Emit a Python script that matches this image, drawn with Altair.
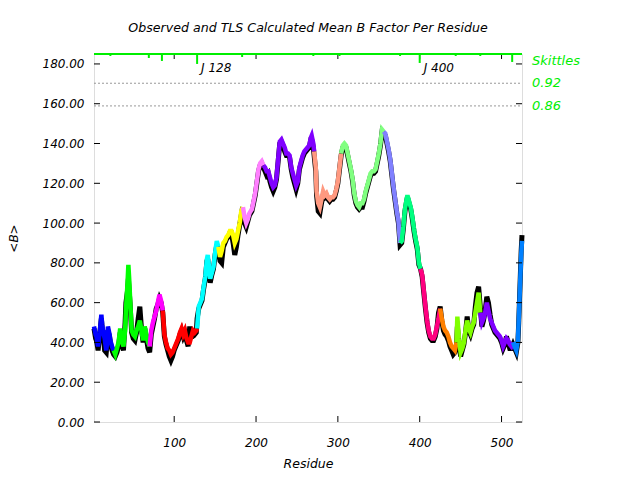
import altair as alt
import pandas as pd

# ---------------- data ----------------
residue = [2, 4, 5, 7, 9, 11, 12, 13, 15, 17, 18, 19, 21, 22, 24, 26, 28, 30, 32, 34, 36, 38, 40, 41, 43, 44, 45, 46, 48, 50,
           52, 54, 56, 58, 60, 62, 64, 66, 68, 70, 72, 74, 76, 78, 80, 82, 84, 86, 88, 90, 92, 94, 96, 98, 100, 102, 105, 107, 109, 111,
           113, 115, 117, 119, 121, 123, 125, 127, 128, 130, 132, 134, 136, 138, 140, 141, 143, 144, 146, 148, 150, 152, 154, 156, 158, 160, 162, 164, 166, 168,
           170, 172, 174, 176, 178, 180, 182, 184, 186, 188, 190, 192, 195, 197, 199, 201, 203, 205, 207, 209, 211, 213, 215, 217, 219, 221, 223, 225, 227, 229,
           231, 233, 235, 237, 239, 241, 243, 245, 247, 249, 251, 253, 255, 257, 259, 261, 263, 265, 267, 268, 270, 271, 273, 274, 276, 278, 280, 282, 284, 286,
           288, 290, 292, 294, 296, 298, 300, 302, 304, 306, 308, 310, 312, 314, 316, 318, 320, 322, 324, 326, 328, 330, 332, 334, 336, 338, 340, 342, 344, 346,
           348, 350, 352, 354, 356, 358, 360, 362, 364, 366, 368, 370, 372, 374, 376, 378, 380, 382, 384, 385, 387, 389, 391, 393, 395, 397, 399, 401, 403, 405,
           407, 409, 411, 413, 415, 417, 419, 421, 423, 425, 427, 429, 431, 433, 435, 437, 439, 441, 443, 445, 446, 448, 450, 452, 454, 456, 458, 460, 462, 464,
           466, 468, 470, 472, 474, 476, 478, 480, 482, 484, 486, 488, 490, 492, 494, 496, 498, 500, 502, 504, 506, 508, 510, 512, 514, 516, 518, 520, 521, 522,
           523, 524, 525]
calc_b = [48, 44, 43, 38, 45, 54, 49, 46, 42, 36, 40, 48, 44, 41, 38, 36, 34, 37, 40, 47, 41, 38, 46, 56, 70, 79, 72, 63, 46, 44,
          43, 46, 48, 51, 46, 41, 48, 44, 40, 38, 46, 50, 53, 56, 60, 64, 61, 56, 44, 40, 37, 36, 34, 35, 37, 39, 42, 45, 47, 44,
          46, 42, 40, 40, 43, 46, 45, 46, 47, 58, 60, 62, 68, 73, 82, 84, 76, 72, 75, 78, 85, 91, 88, 83, 86, 90, 91, 93, 94, 96,
          96, 94, 90, 92, 96, 100, 106, 108, 103, 100, 102, 105, 107, 111, 115, 121, 127, 130, 131, 129, 128, 126, 126, 123, 120, 118, 119, 123, 132, 141,
          142, 140, 138, 135, 135, 134, 128, 125, 122, 119, 121, 128, 131, 134, 136, 137, 138, 139, 143, 144, 140, 136, 128, 116, 110, 108, 112, 116, 114, 115,
          113, 112, 113, 113, 114, 117, 121, 128, 135, 139, 140, 139, 135, 131, 127, 122, 115, 111, 109, 108, 110, 110, 112, 116, 119, 122, 125, 126, 126, 127,
          131, 135, 140, 147, 146, 145, 141, 137, 132, 125, 118, 112, 106, 101, 90, 91, 98, 107, 112, 114, 111, 108, 103, 97, 92, 88, 80, 77, 74, 66,
          58, 51, 46, 43, 42, 42, 44, 48, 52, 57, 52, 48, 46, 45, 43, 40, 38, 37, 36, 40, 53, 42, 35, 37, 40, 46, 51, 47, 45, 48,
          50, 55, 60, 65, 55, 50, 52, 55, 60, 56, 52, 50, 48, 46, 45, 44, 43, 41, 38, 40, 42, 41, 39, 38, 40, 38, 36, 41, 51, 62,
          73, 84, 91]
obs_b = [47, 42, 41, 36, 44, 52, 47, 45, 36, 35, 39, 46, 43, 40, 36, 34, 33, 35, 38, 45, 40, 36, 50, 60, 66, 72, 66, 60, 45, 42,
         41, 45, 52, 58, 47, 40, 47, 42, 37, 35, 44, 48, 52, 57, 59, 62, 60, 55, 43, 39, 36, 33, 31, 33, 36, 38, 41, 44, 46, 43,
         45, 41, 38, 48, 42, 45, 44, 45, 52, 57, 59, 61, 67, 72, 81, 82, 74, 70, 74, 77, 84, 89, 86, 81, 80, 88, 90, 92, 93, 95,
         95, 90, 84, 88, 94, 99, 104, 102, 100, 98, 101, 104, 106, 110, 114, 120, 126, 129, 130, 128, 126, 124, 125, 121, 118, 116, 118, 122, 131, 140,
         141, 139, 136, 134, 134, 133, 127, 123, 120, 117, 120, 127, 130, 133, 135, 136, 137, 138, 142, 142, 138, 134, 126, 114, 106, 105, 110, 114, 113, 114,
         112, 111, 112, 112, 113, 116, 120, 127, 134, 138, 139, 138, 134, 130, 126, 121, 114, 110, 108, 107, 108, 108, 111, 115, 118, 121, 124, 125, 125, 126,
         130, 134, 139, 146, 145, 144, 140, 136, 131, 124, 117, 111, 105, 100, 89, 90, 97, 106, 111, 113, 110, 107, 102, 96, 91, 87, 79, 77, 73, 65,
         57, 50, 45, 42, 41, 41, 43, 47, 55, 58, 51, 46, 44, 43, 41, 38, 36, 34, 35, 39, 48, 40, 33, 36, 39, 45, 53, 46, 44, 47,
         49, 58, 65, 68, 58, 48, 51, 56, 63, 60, 54, 49, 47, 45, 44, 43, 42, 40, 37, 39, 43, 40, 37, 37, 39, 37, 35, 40, 50, 62,
         74, 86, 94]

seg_start = [2, 26, 70, 86, 128, 154, 184, 209, 271, 304, 356, 376, 401, 425, 445, 474, 514]
seg_color = ["#0000ff", "#00ff00", "#ff00ff", "#ff0000", "#00ffff", "#ffff00", "#ff80ff", "#8000ff", "#ff9980",
             "#80ff80", "#8080ff", "#00ff80", "#ff0080", "#ff8000", "#80ff00", "#8000ff", "#0080ff"]

skittle_res = [22, 69, 85, 128, 183, 270, 302, 376, 400, 444, 474, 513]
skittle_depth = [1, 2, 3.5, 5, 1.5, 1, 1, 1, 4.5, 1, 1, 4]
junction_res = [128, 400]
junction_text = ["J 128", "J 400"]

cutoff_b = [170.3, 158.9]
cutoff_text = ["0.92", "0.86"]
skittles_label_b = 181.5

y_ticks = [0, 20, 40, 60, 80, 100, 120, 140, 160, 180]
x_ticks = [100, 200, 300, 400, 500]

TITLE = "Observed and TLS Calculated Mean B Factor Per Residue"
W, H = 428, 368
FONT = "DejaVu Sans"
GREEN = "#00ee00"

# ---------------- tables ----------------
obs_df = pd.DataFrame({"residue": residue, "b": obs_b})
rows = []
bounds = seg_start + [max(residue) + 1]
for i in range(len(seg_start)):
    lo, hi = bounds[i], bounds[i + 1]
    for r, v in zip(residue, calc_b):
        if lo <= r <= hi:
            rows.append({"residue": r, "b": v, "seg": f"s{i:02d}"})
calc_df = pd.DataFrame(rows)
seg_ids = [f"s{i:02d}" for i in range(len(seg_start))]

xs = alt.Scale(domain=[2, 525], nice=False, zero=False)
ys = alt.Scale(domain=[0, 185], nice=False)

x_enc = alt.X("residue:Q", scale=xs, title="Residue",
              axis=alt.Axis(values=x_ticks, ticks=False, domain=False, grid=False,
                            labelPadding=15, titlePadding=9, labelFontStyle="italic",
                            titleFontStyle="italic", titleFontWeight="normal",
                            labelFont=FONT, titleFont=FONT, labelFontSize=12, titleFontSize=12.5,
                            labelColor="black", titleColor="black"))
y_enc = alt.Y("b:Q", scale=ys, title="<B>",
              axis=alt.Axis(values=y_ticks, format=".2f", ticks=False, domain=False, grid=False,
                            labelPadding=10, titlePadding=22, labelFontStyle="italic",
                            titleFontStyle="italic", titleFontWeight="normal",
                            labelFont=FONT, titleFont=FONT, labelFontSize=12, titleFontSize=12,
                            labelColor="black", titleColor="black"))

obs_line = alt.Chart(obs_df).mark_line(color="black", strokeWidth=5).encode(x=x_enc, y=y_enc)
calc_line = alt.Chart(calc_df).mark_line(strokeWidth=4.5).encode(
    x=alt.X("residue:Q", scale=xs),
    y=alt.Y("b:Q", scale=ys),
    color=alt.Color("seg:N", scale=alt.Scale(domain=seg_ids, range=seg_color), legend=None),
    detail="seg:N",
)

cut_df = pd.DataFrame({"b": cutoff_b, "label": cutoff_text})
cut_lines = alt.Chart(cut_df).mark_rule(color="#999999", strokeDash=[2, 2], strokeWidth=1).encode(
    y=alt.Y("b:Q", scale=ys), x=alt.value(0), x2=alt.value(W))
right_lab_df = pd.DataFrame({"b": cutoff_b + [skittles_label_b], "label": cutoff_text + ["Skittles"]})
right_labels = alt.Chart(right_lab_df).mark_text(
    align="left", baseline="middle", color=GREEN, font=FONT, fontStyle="italic", fontSize=13
).encode(y=alt.Y("b:Q", scale=ys), x=alt.value(W + 10), text="label:N")

ytick_df = pd.DataFrame({"b": y_ticks})
left_ticks = alt.Chart(ytick_df).mark_rule(color="black").encode(
    y=alt.Y("b:Q", scale=ys), x=alt.value(0), x2=alt.value(6))
right_ticks = alt.Chart(ytick_df).mark_rule(color="black").encode(
    y=alt.Y("b:Q", scale=ys), x=alt.value(W - 6), x2=alt.value(W))
xtick_df = pd.DataFrame({"residue": x_ticks})
bottom_ticks = alt.Chart(xtick_df).mark_rule(color="black").encode(
    x=alt.X("residue:Q", scale=xs), y=alt.value(H - 6), y2=alt.value(H))
top_ticks = alt.Chart(xtick_df).mark_rule(color="black").encode(
    x=alt.X("residue:Q", scale=xs), y=alt.value(0), y2=alt.value(5))

top_border = alt.Chart(pd.DataFrame({"b": [185]})).mark_rule(color=GREEN, strokeWidth=2).encode(
    y=alt.Y("b:Q", scale=ys), x=alt.value(0), x2=alt.value(W))

sk_df = pd.DataFrame({"residue": skittle_res, "top": [185] * len(skittle_res),
                      "bottom": [185 - d for d in skittle_depth]})
skittles = alt.Chart(sk_df).mark_rule(color=GREEN, strokeWidth=2).encode(
    x=alt.X("residue:Q", scale=xs), y=alt.Y("top:Q", scale=ys), y2="bottom:Q")

j_df = pd.DataFrame({"residue": junction_res, "b": [178, 178], "label": junction_text})
junctions = alt.Chart(j_df).mark_text(
    align="left", baseline="middle", dx=4, color="black", font=FONT, fontStyle="italic", fontSize=12
).encode(x=alt.X("residue:Q", scale=xs), y=alt.Y("b:Q", scale=ys), text="label:N")

chart = alt.layer(
    cut_lines, obs_line, calc_line, left_ticks, right_ticks, bottom_ticks, top_ticks,
    top_border, skittles, junctions, right_labels
).properties(
    width=W, height=H,
    title=alt.TitleParams(TITLE, font=FONT, fontSize=12.6, fontStyle="italic", fontWeight="normal",
                          color="black", anchor="middle", offset=18),
    autosize=alt.AutoSizeParams(type="none"),
    padding={"left": 86, "top": 46, "right": 110, "bottom": 50},
).configure_view(stroke="black", strokeWidth=1).configure(background="white")

chart.save("out.html", embed_options={"renderer": "svg", "actions": False})
